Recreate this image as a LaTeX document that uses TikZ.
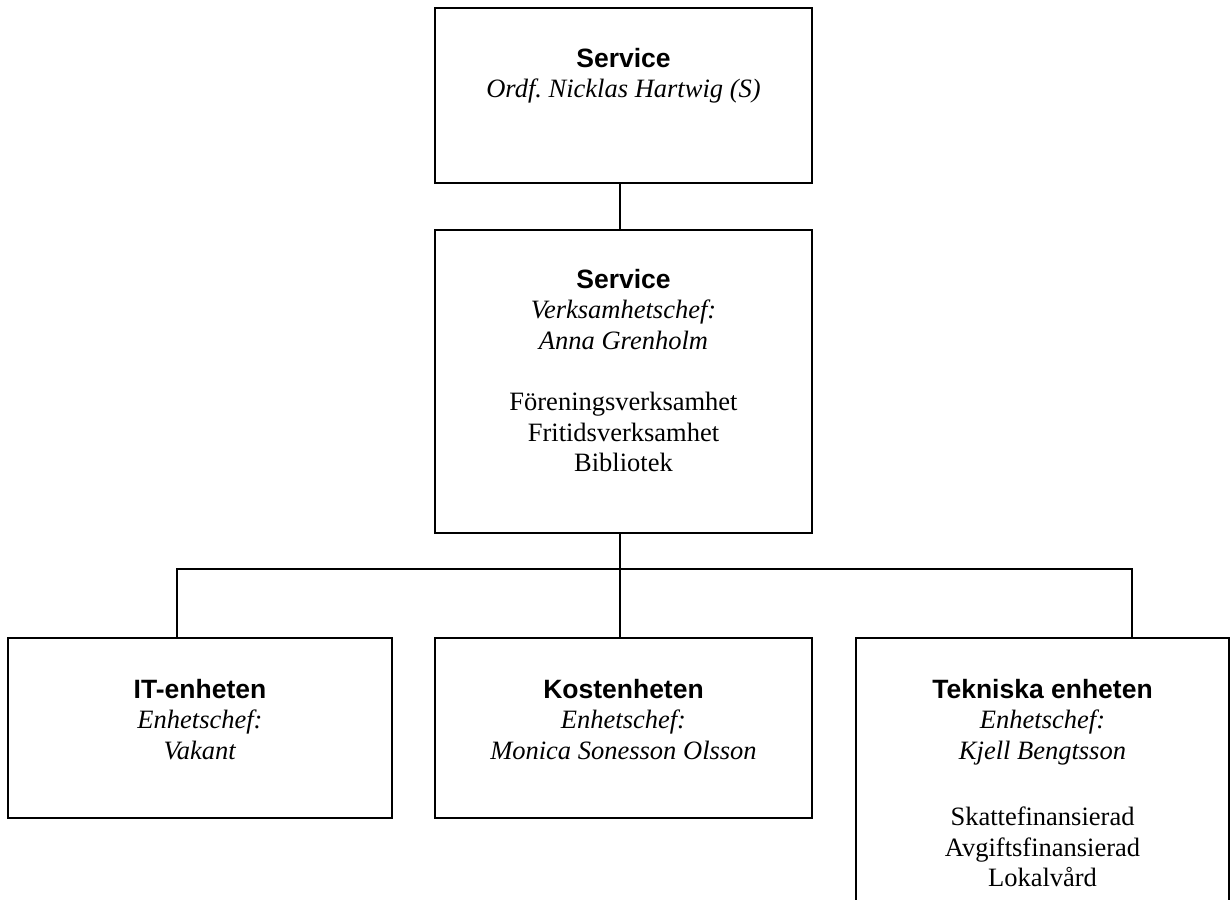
\documentclass[tikz,border=0pt]{standalone}
\usepackage{fontspec}
\setmainfont{Liberation Serif}
\newfontfamily\headfont{Liberation Sans}
\usetikzlibrary{calc}
\tikzset{
  orgbox/.style={draw, line width=1.8pt, rectangle, inner sep=0pt},
  boxtext/.style={anchor=north, align=center, inner sep=0pt, font=\fontsize{26.5}{30.5}\selectfont},
  conn/.style={line width=1.8pt}
}
\newcommand{\hd}[1]{\rule{0pt}{20pt}{\headfont\bfseries #1}}
\begin{document}
\begin{tikzpicture}[x=1pt,y=-1pt]
\useasboundingbox (0,0) rectangle (1230,899);
\clip (0,0) rectangle (1230,899);
% boxes
\node[orgbox, minimum width=377pt, minimum height=175pt] (top) at (623.5,95.5) {};
\node[orgbox, minimum width=377pt, minimum height=303pt] (mid) at (623.5,381.5) {};
\node[orgbox, minimum width=384pt, minimum height=180pt] (bl) at (200,728) {};
\node[orgbox, minimum width=377pt, minimum height=180pt] (bm) at (623.5,728) {};
\node[orgbox, minimum width=373pt, minimum height=302pt] (br) at (1042.5,789) {};
% texts
\node[boxtext] (ttop) at ($(top.north)+(0,40)$) {\hd{Service}\\ \textit{Ordf.\ Nicklas Hartwig (S)}};
\node[boxtext] (tmid) at ($(mid.north)+(0,39)$) {\hd{Service}\\ \textit{Verksamhetschef:}\\ \textit{Anna Grenholm}\\[31pt] Föreningsverksamhet\\ Fritidsverksamhet\\ Bibliotek};
\node[boxtext] (tbl) at ($(bl.north)+(0,41)$) {\hd{IT-enheten}\\ \textit{Enhetschef:}\\ \textit{Vakant}};
\node[boxtext] (tbm) at ($(bm.north)+(0,41)$) {\hd{Kostenheten}\\ \textit{Enhetschef:}\\ \textit{Monica Sonesson Olsson}};
\node[boxtext] (tbr) at ($(br.north)+(0,41)$) {\hd{Tekniska enheten}\\ \textit{Enhetschef:}\\ \textit{Kjell Bengtsson}\\[36pt] Skattefinansierad\\ Avgiftsfinansierad\\ Lokalvård};
% connectors
\coordinate (sp) at (620,0);
\coordinate (hl) at (177,569);
\coordinate (hr) at (1132,569);
\draw[conn] (top.south -| sp) -- (mid.north -| sp);
\draw[conn] (mid.south -| sp) -- (bm.north -| sp);
\draw[conn] (bl.north -| hl) -- (hl) -- (hr) -- (br.north -| hr);
\end{tikzpicture}
\end{document}
